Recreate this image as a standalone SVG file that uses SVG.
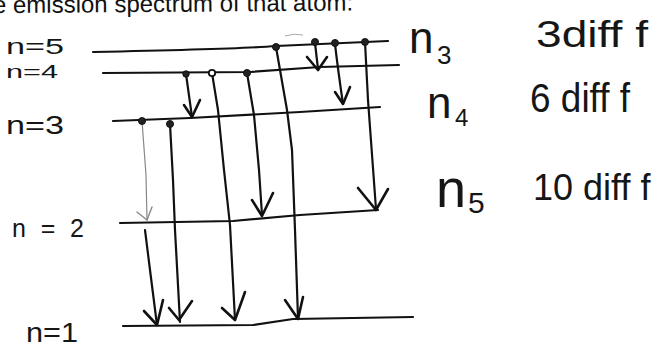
<svg xmlns="http://www.w3.org/2000/svg" width="654" height="348" viewBox="0 0 654 348">
<style>
  .lvl{fill:none;stroke:#111;stroke-width:2.2;stroke-linecap:round;stroke-linejoin:round}
  .shaft{fill:none;stroke:#111;stroke-width:2.2;stroke-linecap:round;stroke-linejoin:round}
  .thin{fill:none;stroke:#888;stroke-width:1.2;stroke-linecap:round}
  .head{fill:none;stroke:#111;stroke-width:2.6;stroke-linecap:round;stroke-linejoin:round}
  .headThin{fill:none;stroke:#888;stroke-width:1.4;stroke-linecap:round;stroke-linejoin:round}
  .dot{fill:#222;stroke:#111;stroke-width:1}
  .hw{font-family:"Liberation Sans",Arial,sans-serif;fill:#161616}
  .print{font-family:"Liberation Sans",Arial,sans-serif;fill:#111;font-size:24px}
</style>
<rect width="654" height="348" fill="#fff"/>

<text class="print" x="-7" y="13" transform="rotate(-0.4 0 13)">e emission spectrum of that atom:</text>

<g id="level-n5">
  <path class="lvl" d="M93,52 Q240,49 276,46 L388,41"/>
  <text class="hw" x="6" y="54" font-size="22" textLength="58" lengthAdjust="spacingAndGlyphs">n=5</text>
</g>
<g id="level-n4">
  <path class="lvl" d="M103,73 L250,72 L320,67 L399,65"/>
  <text class="hw" x="6" y="78" font-size="19" textLength="52" lengthAdjust="spacingAndGlyphs">n=4</text>
</g>
<g id="level-n3">
  <path class="lvl" d="M113,121 L190,118 L300,112 L380,107"/>
  <text class="hw" x="6" y="134" font-size="25" textLength="58" lengthAdjust="spacingAndGlyphs">n=3</text>
</g>
<g id="level-n2">
  <path class="lvl" d="M120,223 L233,221 L300,215 L378,210"/>
  <text class="hw" x="12" y="237" font-size="25" textLength="72" lengthAdjust="spacing">n=2</text>
</g>
<g id="level-n1">
  <path class="lvl" d="M123,326 L253,325 L293,319 L413,317"/>
  <text class="hw" x="26" y="342" font-size="27" textLength="52" lengthAdjust="spacingAndGlyphs">n=1</text>
</g>

<g id="label-n3">
  <text class="hw" x="409" y="53" font-size="44">n</text>
  <text class="hw" x="437" y="64" font-size="26">3</text>
</g>
<g id="label-n4">
  <text class="hw" x="427" y="118" font-size="44">n</text>
  <text class="hw" x="455" y="126" font-size="24">4</text>
</g>
<g id="label-n5">
  <text class="hw" x="436" y="207" font-size="54">n</text>
  <text class="hw" x="468" y="213" font-size="30">5</text>
</g>
<g id="note-3">
  <text class="hw" x="536" y="47" font-size="36" textLength="112" lengthAdjust="spacingAndGlyphs">3diff f</text>
</g>
<g id="note-6">
  <text class="hw" x="530" y="112" font-size="40" textLength="100" lengthAdjust="spacingAndGlyphs">6 diff f</text>
</g>
<g id="note-10">
  <text class="hw" x="533" y="200" font-size="36">10 diff f</text>
</g>

<g id="connectors">
  <path d="M285,36 Q294,33 303,35" fill="none" stroke="#aaa" stroke-width="1"/>
  <!-- 5 -> 4 -->
  <path class="shaft" d="M315,43 L318,69"/>
  <polyline class="head" points="307,57 318,70 327,57"/>
  <!-- 5 -> 3 -->
  <path class="shaft" d="M335,44 Q338,70 343,104"/>
  <polyline class="head" points="335,92 343,104 350,87"/>
  <!-- 5 -> 2 -->
  <path class="shaft" d="M365,42 L368,100 L376,209"/>
  <polyline class="head" points="358,188 376,210 388,189"/>
  <!-- 5 -> 1 -->
  <path class="shaft" d="M276,47 L287,110 L292,150 L295,230 L298,318"/>
  <polyline class="head" points="285,300 298,319 303,297"/>
  <!-- 4 -> 3 -->
  <path class="shaft" d="M186,74 L192,117"/>
  <polyline class="head" points="184,105 192,117 200,100"/>
  <!-- 4 -> 2 -->
  <path class="shaft" d="M247,73 L254,115 L259,170 L262,215"/>
  <polyline class="head" points="252,200 262,216 273,193"/>
  <!-- 4 -> 1 -->
  <path class="shaft" d="M212,73 L218,110 L224,170 L230,225 L235,320"/>
  <polyline class="head" points="222,308 235,320 245,292"/>
  <!-- 3 -> 2 -->
  <path class="thin" d="M142,121 L146,175 L147,220"/>
  <polyline class="headThin" points="137,212 147,220 152,207"/>
  <!-- 3 -> 1 -->
  <path class="shaft" d="M170,124 L173,180 L175,230 L180,322"/>
  <polyline class="head" points="169,308 179,320 192,301"/>
  <!-- 2 -> 1 -->
  <path class="shaft" d="M145,230 L150,270 L157,325"/>
  <polyline class="head" points="144,311 157,325 163,300"/>
  <!-- dots -->
  <circle class="dot" cx="276" cy="47" r="3.5"/>
  <circle class="dot" cx="315" cy="42" r="3.5"/>
  <circle class="dot" cx="335" cy="43" r="3.5"/>
  <circle class="dot" cx="365" cy="42" r="3.5"/>
  <circle class="dot" cx="186" cy="74" r="3.2"/>
  <circle cx="212" cy="73" r="3.2" fill="#fff" stroke="#111" stroke-width="1.8"/>
  <circle class="dot" cx="247" cy="73" r="3.5"/>
  <circle class="dot" cx="142" cy="121" r="3.5"/>
  <circle class="dot" cx="170" cy="124" r="3.5"/>
</g>
</svg>
